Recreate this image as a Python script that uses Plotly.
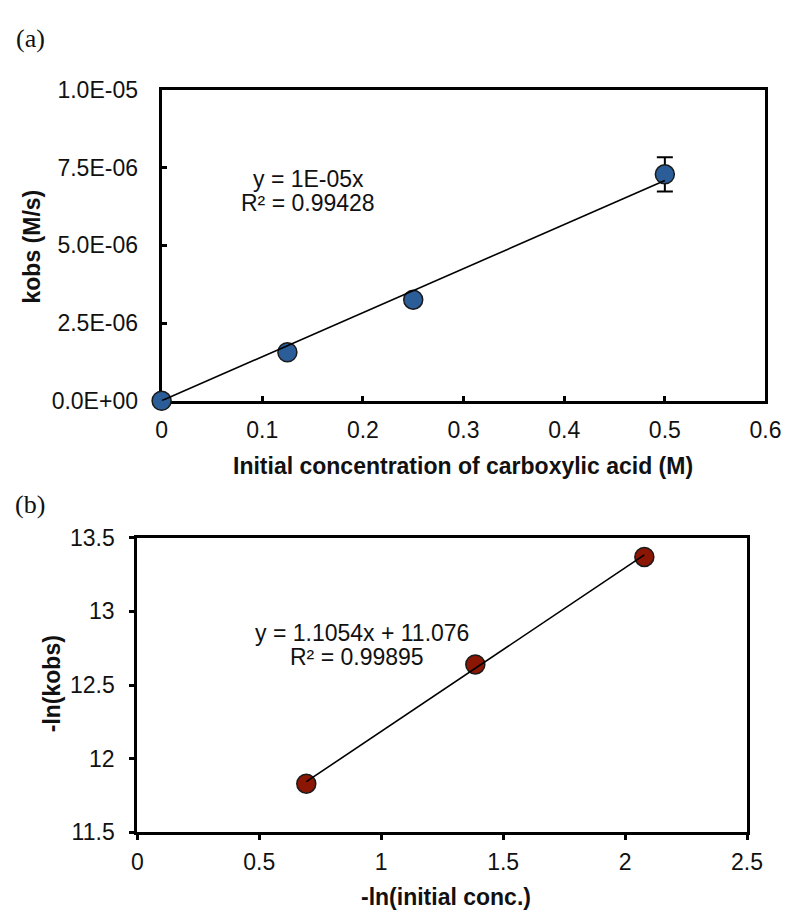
import numpy as np
import plotly.graph_objects as go

# ---------------- data ----------------
# (a) kobs vs initial concentration of carboxylic acid
conc_a = [0.0, 0.125, 0.25, 0.5]
kobs_a = [0.0, 1.56e-6, 3.25e-6, 7.28e-6]
kobs_err_a = [None, None, None, 0.55e-6]
xticks_a = [0, 0.1, 0.2, 0.3, 0.4, 0.5, 0.6]
yticks_a = [0.0, 2.5e-6, 5.0e-6, 7.5e-6, 1.0e-5]
eq_a = ["y = 1E-05x", "R² = 0.99428"]

# (b) -ln(kobs) vs -ln(initial conc.)
lnconc_b = [0.693, 1.386, 2.079]
lnkobs_b = [11.83, 12.64, 13.37]
xticks_b = [0, 0.5, 1, 1.5, 2, 2.5]
yticks_b = [11.5, 12, 12.5, 13, 13.5]
eq_b = ["y = 1.1054x + 11.076", "R² = 0.99895"]

W, H = 799, 922
FONT = "Liberation Sans, Arial, sans-serif"
SERIF = "Liberation Serif, Times New Roman, serif"

def px(x):
    return x / W

def py(y):
    return 1 - y / H

# trendlines computed from data
slope_a = float(np.dot(conc_a, kobs_a) / np.dot(conc_a, conc_a))
tx_a = [min(conc_a), max(conc_a)]
ty_a = [slope_a * v for v in tx_a]

pb = np.polyfit(lnconc_b, lnkobs_b, 1)
tx_b = [min(lnconc_b), max(lnconc_b)]
ty_b = [float(np.polyval(pb, v)) for v in tx_b]

fig = go.Figure()

fig.add_trace(go.Scatter(
    x=conc_a, y=kobs_a, mode="markers", xaxis="x", yaxis="y",
    marker=dict(size=19, color="#2B5E99", line=dict(color="#1a1a1a", width=1.5)),
    error_y=dict(type="data", array=kobs_err_a, visible=True, color="black",
                 thickness=2, width=8),
    cliponaxis=False, showlegend=False))
fig.add_trace(go.Scatter(
    x=tx_a, y=ty_a, mode="lines", xaxis="x", yaxis="y",
    line=dict(color="black", width=1.6), cliponaxis=False, showlegend=False))

fig.add_trace(go.Scatter(
    x=lnconc_b, y=lnkobs_b, mode="markers", xaxis="x2", yaxis="y2",
    marker=dict(size=19, color="#8C1604", line=dict(color="#1a1a1a", width=1.5)),
    cliponaxis=False, showlegend=False))
fig.add_trace(go.Scatter(
    x=tx_b, y=ty_b, mode="lines", xaxis="x2", yaxis="y2",
    line=dict(color="black", width=1.6), cliponaxis=False, showlegend=False))

axis_common = dict(showgrid=False, zeroline=False, showline=True, linecolor="black",
                   linewidth=3, mirror=True, tickcolor="black", tickwidth=2.5,
                   ticklen=5, layer="below traces",
                   tickfont=dict(family=FONT, size=23, color="#111111"))

fig.update_layout(
    width=W, height=H, margin=dict(l=0, r=0, t=0, b=0),
    paper_bgcolor="white", plot_bgcolor="white",
    xaxis=dict(domain=[px(160), px(781)], range=[0, 0.6], anchor="y",
               tickvals=xticks_a, ticktext=[f"{v:g}" for v in xticks_a],
               ticks="inside", ticklabelstandoff=7, **axis_common),
    yaxis=dict(domain=[py(399), py(79)], range=[0, 1e-5], anchor="x",
               tickvals=yticks_a, ticktext=[f"{v:.1E}" for v in yticks_a],
               ticks="inside", ticklabelstandoff=16, **axis_common),
    xaxis2=dict(domain=[px(135), px(762)], range=[0, 2.5], anchor="y2",
                tickvals=xticks_b, ticktext=[f"{v:g}" for v in xticks_b],
                ticks="outside", ticklabelstandoff=2, **axis_common),
    yaxis2=dict(domain=[py(843), py(540)], range=[11.5, 13.5], anchor="x2",
                tickvals=yticks_b, ticktext=[f"{v:g}" for v in yticks_b],
                ticks="outside", ticklabelstandoff=10, **axis_common),
)

def txt(text, x, y, size=23, bold=False, family=FONT, angle=0):
    fig.add_annotation(text=f"<b>{text}</b>" if bold else text,
                       x=px(x), y=py(y), xref="paper", yref="paper",
                       xanchor="center", yanchor="middle", showarrow=False,
                       textangle=angle,
                       font=dict(family=family, size=size, color="#111111"))

txt("(a)", 25, 26, size=26, family=SERIF)
txt("(b)", 25, 506, size=26, family=SERIF)
txt(eq_a[0], 311, 171)
txt(eq_a[1], 311, 195)
txt(eq_b[0], 366, 638)
txt(eq_b[1], 361, 663)
txt("kobs (M/s)", 27, 240, bold=True, angle=-90)
txt("Initial concentration of carboxylic acid (M)", 470, 466, bold=True)
txt("-ln(kobs)", 47, 690, bold=True, angle=-90)
txt("-ln(initial conc.)", 452, 910, bold=True)

post = (
    "document.body.style.margin='0';document.body.style.padding='0';"
    "document.documentElement.style.overflow='hidden';"
)

fig.write_html("out.html", config={"displayModeBar": False}, post_script=post)
